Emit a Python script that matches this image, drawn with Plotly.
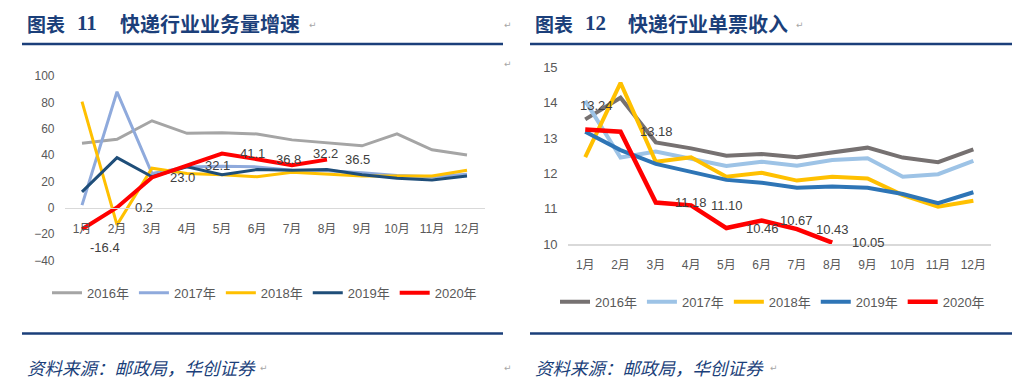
import plotly.graph_objects as go

W, H = 1016, 381

months = ["1月", "2月", "3月", "4月", "5月", "6月", "7月", "8月", "9月", "10月", "11月", "12月"]
years = ["2016年", "2017年", "2018年", "2019年", "2020年"]

# 快递行业业务量增速 (%)
vol_2016 = [49, 52, 66, 56.5, 57, 56, 51.5, 49, 47, 56, 44, 40]
vol_2017 = [2, 88, 26, 31, 31.5, 31, 28.5, 28, 26.5, 24.5, 23.5, 25.5]
vol_2018 = [80.5, -13, 30, 26, 25, 23.5, 27, 25.5, 24, 24, 24, 28.5]
vol_2019 = [12, 38, 23.5, 31, 25, 29, 28.5, 29, 25, 22.3, 21, 24]
vol_2020 = [-16.4, 0.2, 23.0, 32.1, 41.1, 36.8, 32.2, 36.5]

# 快递行业单票收入 (元)
price_2016 = [13.53, 14.14, 12.88, 12.71, 12.50, 12.55, 12.46, 12.59, 12.73, 12.45, 12.32, 12.68]
price_2017 = [14.05, 12.45, 12.62, 12.41, 12.21, 12.33, 12.22, 12.38, 12.43, 11.91, 11.98, 12.36]
price_2018 = [12.46, 14.56, 12.33, 12.46, 11.91, 12.02, 11.80, 11.91, 11.86, 11.39, 11.06, 11.23]
price_2019 = [13.18, 12.66, 12.27, 12.05, 11.82, 11.74, 11.60, 11.63, 11.60, 11.42, 11.16, 11.47]
price_2020 = [13.24, 13.18, 11.18, 11.10, 10.46, 10.67, 10.43, 10.05]

vol_series = [vol_2016, vol_2017, vol_2018, vol_2019, vol_2020]
price_series = [price_2016, price_2017, price_2018, price_2019, price_2020]

# styles
vol_colors = ["#A5A5A5", "#8FAADC", "#FFC000", "#1F4E79", "#FF0000"]
vol_widths = [3, 3, 3, 3, 4]
price_colors = ["#767171", "#9DC3E6", "#FFC000", "#2E75B6", "#FF0000"]
price_widths = [4, 4, 4, 4, 4.5]

# data-label pixel offsets (as placed in the original)
vol_lab_dx = [23, 27, 30, 30, 30, 31, 33, 30]
vol_lab_dy = [-18, 0, 0, 0, 0, 0, 12, 0]
price_lab_dx = [11, 36, 35, 36, 36, 35, 36, 36]
price_lab_dy = [24, 0, 0, 0, 0, 0, 0, 0]

NAVY = "#1B3F7A"
TICK = "#595959"
LAB = "#404040"
BASE = "Liberation Sans, Arial, Noto Sans CJK SC, sans-serif"
CJK = "Noto Sans CJK SC, sans-serif"


def px(x):
    return x / W


def py(y):
    return 1 - y / H


fig = go.Figure()

for name, vals, c, w in zip(years, vol_series, vol_colors, vol_widths):
    fig.add_trace(go.Scatter(
        x=months[:len(vals)], y=vals, mode="lines", name=name,
        line=dict(color=c, width=w), xaxis="x", yaxis="y",
        legend="legend", hoverinfo="skip"))

for name, vals, c, w in zip(years, price_series, price_colors, price_widths):
    fig.add_trace(go.Scatter(
        x=months[:len(vals)], y=vals, mode="lines", name=name,
        line=dict(color=c, width=w), xaxis="x2", yaxis="y2",
        legend="legend2", hoverinfo="skip"))

# data labels for 2020
for m, v, dx, dy in zip(months, vol_2020, vol_lab_dx, vol_lab_dy):
    fig.add_annotation(x=m, y=v, xref="x", yref="y", text=f"{v:.1f}",
                       showarrow=False, xshift=dx, yshift=dy,
                       font=dict(size=13, color=LAB, family=BASE))
for m, v, dx, dy in zip(months, price_2020, price_lab_dx, price_lab_dy):
    fig.add_annotation(x=m, y=v, xref="x2", yref="y2", text=f"{v:.2f}",
                       showarrow=False, xshift=dx, yshift=dy,
                       font=dict(size=13, color=LAB, family=BASE))

# axes geometry
yl_dom = [py(260.4), py(76)]
yl_rng = [-40, 100]
zero_pos = yl_dom[0] + (0 - yl_rng[0]) / (yl_rng[1] - yl_rng[0]) * (yl_dom[1] - yl_dom[0])

yr_dom = [py(244.3), py(67.3)]

common_x = dict(type="category", categoryorder="array", categoryarray=months,
                range=[-0.5, 11.5], showgrid=False, zeroline=False, ticks="",
                showline=True, linecolor="#D9D9D9", linewidth=1.5,
                tickfont=dict(size=12, color=TICK, family=BASE),
                ticklabelstandoff=9, fixedrange=True, automargin=False)

fig.update_layout(
    width=W, height=H,
    margin=dict(l=0, r=0, t=0, b=0, pad=0, autoexpand=False),
    paper_bgcolor="white", plot_bgcolor="white",
    font=dict(family=BASE, color=TICK),
    showlegend=True,
    xaxis=dict(common_x, domain=[px(64.5), px(484.5)], anchor="free", position=zero_pos),
    yaxis=dict(domain=yl_dom, range=yl_rng, tickvals=[-40, -20, 0, 20, 40, 60, 80, 100],
               showgrid=False, zeroline=False, showline=False, ticks="", anchor="x",
               tickfont=dict(size=12, color=TICK, family=BASE), ticklabelstandoff=9,
               fixedrange=True, automargin=False),
    xaxis2=dict(common_x, domain=[px(567.6), px(991)], anchor="y2"),
    yaxis2=dict(domain=yr_dom, range=[10, 15], tickvals=[10, 11, 12, 13, 14, 15],
                showgrid=False, zeroline=False, showline=False, ticks="", anchor="x2",
                tickfont=dict(size=13, color=TICK, family=BASE), ticklabelstandoff=9,
                fixedrange=True, automargin=False),
    legend=dict(orientation="h", x=px(264.5), xanchor="center", y=py(292.7), yanchor="middle",
                font=dict(size=13, color=TICK, family=BASE), bgcolor="rgba(0,0,0,0)",
                itemwidth=30),
    legend2=dict(orientation="h", x=px(772.5), xanchor="center", y=py(301.7), yanchor="middle",
                 font=dict(size=13, color=TICK, family=BASE), bgcolor="rgba(0,0,0,0)",
                 itemwidth=30),
)

# navy rules
for x0, x1 in [(22, 503), (530, 1012)]:
    for yy in (44, 333.5):
        fig.add_shape(type="line", xref="paper", yref="paper",
                      x0=px(x0), x1=px(x1), y0=py(yy), y1=py(yy),
                      line=dict(color=NAVY, width=2.5))

# titles
for x_fig, x_num, x_main, num, main in [(25, 75, 118, "11", "快递行业业务量增速"),
                                        (533, 583, 626, "12", "快递行业单票收入")]:
    fig.add_annotation(x=px(x_fig), y=py(23), xref="paper", yref="paper", xanchor="left",
                       yanchor="middle", showarrow=False, text="<b>图表</b>",
                       font=dict(size=19, color=NAVY, family=CJK))
    fig.add_annotation(x=px(x_num), y=py(23), xref="paper", yref="paper", xanchor="left",
                       yanchor="middle", showarrow=False, text=f"<b>{num}</b>",
                       font=dict(size=21, color=NAVY, family="Liberation Serif, serif"))
    fig.add_annotation(x=px(x_main), y=py(23), xref="paper", yref="paper", xanchor="left",
                       yanchor="middle", showarrow=False, text=f"<b>{main}</b>",
                       font=dict(size=20, color=NAVY, family=CJK))

# source notes
for xs in (25, 533):
    fig.add_annotation(x=px(xs), y=py(367), xref="paper", yref="paper", xanchor="left",
                       yanchor="middle", showarrow=False, text="<i>资料来源：邮政局，华创证券</i>",
                       font=dict(size=17.5, color=NAVY, family=CJK))

# paragraph marks
for xm, ym in [(313, 25), (508, 25), (800, 25), (508, 64), (264, 368), (508, 368), (774, 368)]:
    fig.add_annotation(x=px(xm), y=py(ym), xref="paper", yref="paper", xanchor="center",
                       yanchor="middle", showarrow=False, text="↵",
                       font=dict(size=9, color="#A6A6A6", family="DejaVu Sans"))

fig.write_html("out.html",
               config={"displayModeBar": False, "staticPlot": True},
               post_script="document.body.style.margin='0';document.body.style.overflow='hidden';")
